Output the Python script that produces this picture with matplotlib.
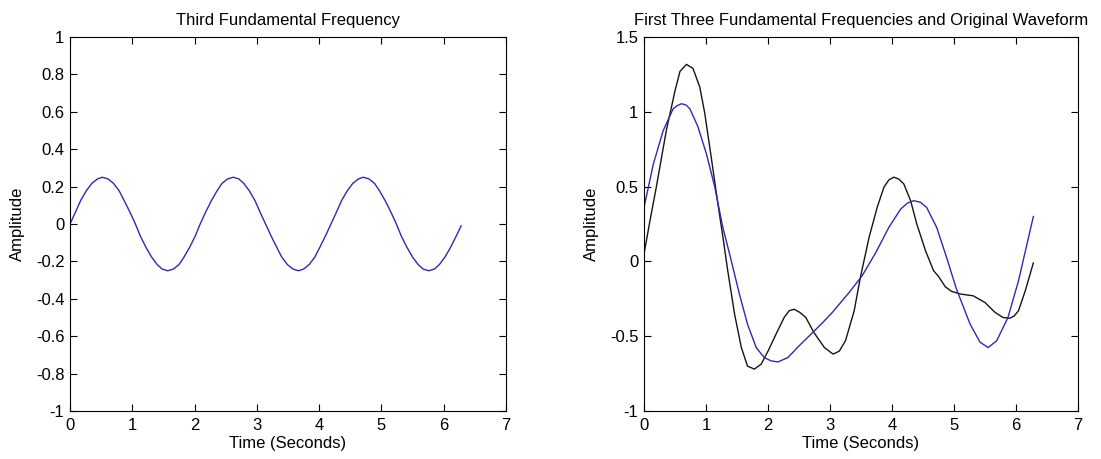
#! /usr/bin/python3
# -*- coding: utf-8 -*-

import matplotlib
matplotlib.use('Agg')
import matplotlib.pyplot as plt


# third harmonic alone (left panel)
t_third = [
    0.00, 0.09, 0.17, 0.26, 0.35, 0.44, 0.52, 0.61, 0.70, 0.79, 0.87, 0.96,
    1.05, 1.13, 1.22, 1.31, 1.40, 1.48, 1.57, 1.66, 1.75, 1.83, 1.92, 2.01,
    2.09, 2.18, 2.27, 2.36, 2.44, 2.53, 2.62, 2.71, 2.79, 2.88, 2.97, 3.05,
    3.14, 3.23, 3.32, 3.40, 3.49, 3.58, 3.67, 3.75, 3.84, 3.93, 4.01, 4.10,
    4.19, 4.28, 4.36, 4.45, 4.54, 4.63, 4.71, 4.80, 4.89, 4.97, 5.06, 5.15,
    5.24, 5.32, 5.41, 5.50, 5.59, 5.67, 5.76, 5.85, 5.93, 6.02, 6.11, 6.20,
    6.28
]
amp_third = [
    0.000, 0.065, 0.125, 0.177, 0.217, 0.241, 0.250, 0.241, 0.217, 0.177,
    0.125, 0.065, 0.000, -0.065, -0.125, -0.177, -0.217, -0.241, -0.250,
    -0.241, -0.217, -0.177, -0.125, -0.065,
    0.000, 0.065, 0.125, 0.177, 0.217, 0.241, 0.250, 0.241, 0.217, 0.177,
    0.125, 0.065, 0.000, -0.065, -0.125, -0.177, -0.217, -0.241, -0.250,
    -0.241, -0.217, -0.177, -0.125, -0.065,
    0.000, 0.065, 0.125, 0.177, 0.217, 0.241, 0.250, 0.241, 0.217, 0.177,
    0.125, 0.065, 0.000, -0.065, -0.125, -0.177, -0.217, -0.241, -0.250,
    -0.241, -0.217, -0.177, -0.125, -0.065,
    -0.010
]

# original waveform (black)
t_orig = [
    0.00, 0.10, 0.20, 0.36, 0.50, 0.58, 0.685, 0.79, 0.90, 0.98, 1.09, 1.19,
    1.27, 1.35, 1.46, 1.57, 1.67, 1.78, 1.89, 2.00, 2.13, 2.26, 2.34, 2.42,
    2.51, 2.61, 2.74, 2.91, 3.05, 3.15, 3.25, 3.39, 3.49, 3.63, 3.76, 3.87,
    3.95, 4.03, 4.11, 4.19, 4.30, 4.40, 4.54, 4.67, 4.75, 4.86, 4.96, 5.10,
    5.31, 5.50, 5.66, 5.79, 5.90, 5.97, 6.04, 6.15, 6.28
]
amp_orig = [
    0.05, 0.28, 0.50, 0.875, 1.14, 1.27, 1.317, 1.29, 1.165, 0.99, 0.68, 0.39,
    0.17, -0.06, -0.35, -0.576, -0.70, -0.72, -0.687, -0.60, -0.486, -0.375,
    -0.33, -0.32, -0.34, -0.375, -0.475, -0.576, -0.62, -0.60, -0.53, -0.33,
    -0.107, 0.16, 0.36, 0.496, 0.545, 0.563, 0.55, 0.518, 0.406, 0.25, 0.072,
    -0.062, -0.10, -0.17, -0.20, -0.218, -0.23, -0.275, -0.34, -0.375, -0.38,
    -0.365, -0.33, -0.196, -0.01
]

# sum of the first three harmonics (blue)
t_sum = [
    0.00, 0.15, 0.31, 0.47, 0.53, 0.605, 0.68, 0.74, 0.87, 1.006, 1.14, 1.27,
    1.38, 1.54, 1.67, 1.81, 1.94, 2.05, 2.16, 2.32, 2.50, 2.66, 2.88, 3.04,
    3.31, 3.52, 3.74, 3.95, 4.14, 4.25, 4.35, 4.46, 4.56, 4.72, 4.88, 5.04,
    5.26, 5.42, 5.55, 5.69, 5.87, 6.04, 6.28
]
amp_sum = [
    0.36, 0.65, 0.875, 1.02, 1.04, 1.054, 1.045, 1.02, 0.90, 0.72, 0.50, 0.23,
    0.05, -0.22, -0.42, -0.576, -0.643, -0.665, -0.672, -0.643, -0.565,
    -0.50, -0.41, -0.34, -0.207, -0.095, 0.06, 0.228, 0.35, 0.39, 0.406,
    0.395, 0.36, 0.228, 0.027, -0.185, -0.42, -0.54, -0.576, -0.53, -0.375,
    -0.13, 0.30
]

blue = '#2b2bb5'
black = '#151515'

plt.rcParams['font.family'] = ['Liberation Sans', 'DejaVu Sans']
plt.rcParams['font.size'] = 12


def style(ax, xlabel, ylabel, title):
    ax.set_xlim(0, 7)
    ax.set_xticks(range(0, 8))
    ax.tick_params(direction='in', length=5, width=0.8, top=True, right=True,
                   labelsize=12)
    ax.tick_params(axis='x', pad=5)
    ax.tick_params(axis='y', pad=4)
    for sp in ax.spines.values():
        sp.set_linewidth(0.8)
    ax.set_xlabel(xlabel, labelpad=2)
    ax.set_ylabel(ylabel, labelpad=8)
    ax.set_title(title, fontsize=12, pad=9)


fig = plt.figure(figsize=(11.01, 4.59), dpi=100)
ax1 = fig.add_axes([70 / 1101, 48 / 459, 436 / 1101, 374 / 459])
ax2 = fig.add_axes([644 / 1101, 48 / 459, 434 / 1101, 374 / 459])

ax1.plot(t_third, amp_third, color=blue, lw=1.0)
ax1.set_ylim(-1, 1)
ax1.set_yticks([-1, -0.8, -0.6, -0.4, -0.2, 0, 0.2, 0.4, 0.6, 0.8, 1])
ax1.set_yticklabels(['-1', '-0.8', '-0.6', '-0.4', '-0.2', '0',
                     '0.2', '0.4', '0.6', '0.8', '1'])
style(ax1, 'Time (Seconds)', 'Amplitude', 'Third Fundamental Frequency')

ax2.plot(t_orig, amp_orig, color=black, lw=1.0)
ax2.plot(t_sum, amp_sum, color=blue, lw=1.0)
ax2.set_ylim(-1, 1.5)
ax2.set_yticks([-1, -0.5, 0, 0.5, 1, 1.5])
ax2.set_yticklabels(['-1', '-0.5', '0', '0.5', '1', '1.5'])
style(ax2, 'Time (Seconds)', 'Amplitude',
      'First Three Fundamental Frequencies and Original Waveform')

fig.savefig('out.png', dpi=100)
